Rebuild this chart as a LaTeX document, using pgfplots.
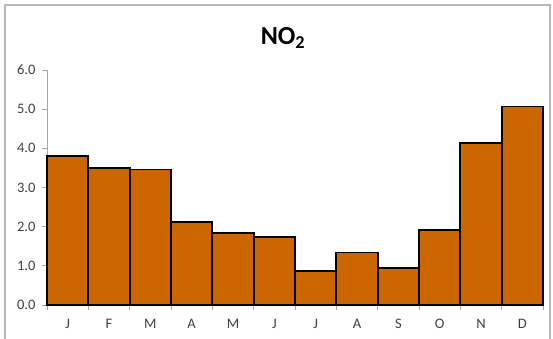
\documentclass[border=0pt]{standalone}
\usepackage{pgfplots}
\pgfplotsset{compat=1.18}
\usepackage{fontspec}
\setmainfont{Carlito}
\definecolor{barfill}{HTML}{CC6600}
\definecolor{lbl}{HTML}{404040}
\definecolor{axgray}{HTML}{A6A6A6}
\begin{document}
\begin{tikzpicture}[x=1pt,y=1pt]
\useasboundingbox (0,0) rectangle (553,339);
\begin{scope}
\clip (0,0) rectangle (553,339);
\draw[color=axgray!80!white, line width=1.2pt] (5,-10) rectangle (550,334);
\end{scope}
\node[font=\bfseries\fontsize{26}{30}\selectfont, anchor=center] at (283,301) {NO\textsubscript{2}};
\begin{axis}[
  at={(47pt,34pt)}, anchor=origin,
  scale only axis, width=496pt, height=235pt,
  xmin=0.5, xmax=12.5, ymin=0, ymax=6,
  axis x line*=bottom, axis y line*=left,
  axis line style={color=axgray, line width=0.8pt},
  xtick={1,...,12},
  xticklabels={J,F,M,A,M,J,J,A,S,O,N,D},
  minor xtick={0.5,1.5,...,12.5},
  major x tick style={draw=none},
  minor x tick style={color=axgray, line width=0.8pt},
  ytick={0,1,...,6},
  y tick style={color=axgray, line width=0.8pt},
  tick align=outside,
  major tick length=5pt, minor tick length=5pt,
  ticklabel style={font=\fontsize{14.5}{17}\selectfont, text=lbl},
  yticklabel style={/pgf/number format/.cd, fixed, fixed zerofill, precision=1, assume math mode=true, /tikz/.cd, xshift=-3pt},
  xticklabel style={yshift=-6pt},
  clip=false,
]
\addplot[ybar, bar width=41.33pt, fill=barfill, draw=black, line width=1.8pt]
  coordinates {(1,3.81) (2,3.50) (3,3.46) (4,2.12) (5,1.83) (6,1.74) (7,0.86) (8,1.34) (9,0.94) (10,1.91) (11,4.14) (12,5.07)};
\end{axis}
\end{tikzpicture}
\end{document}
